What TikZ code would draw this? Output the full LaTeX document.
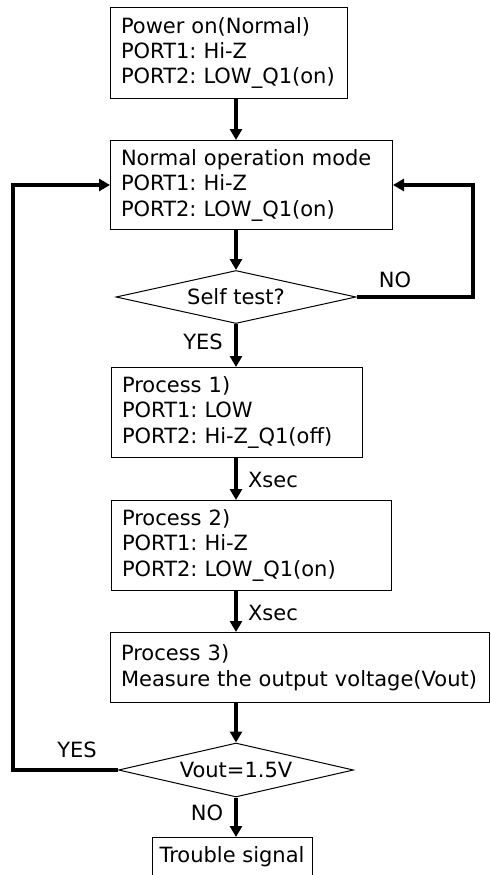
\documentclass[tikz,border=0pt]{standalone}
\usepackage{fontspec}
\setmainfont{DejaVu Sans}
\usetikzlibrary{shapes.geometric,arrows.meta}
\begin{document}
\begin{tikzpicture}[x=1pt,y=-1pt,
  txt/.style={font=\fontsize{21}{25.5}\selectfont},
  stepbox/.style={draw,line width=1pt,anchor=north west,align=left,inner xsep=10.5pt,inner ysep=0pt,txt},
  decision/.style={draw,line width=1pt,diamond,shape aspect=4.5,inner sep=0pt,txt},
  arr/.style={line width=3.5pt,-{Triangle[width=12pt,length=11pt]}},
  lbl/.style={txt,inner sep=0pt}]
\useasboundingbox (0,0) rectangle (490,875);
\node[stepbox,text width=216pt,minimum height=91pt] (b1) at (110,7)
  {Power~on(Normal)\\PORT1:~Hi-Z\\PORT2:~LOW\_Q1(on)};
\node[stepbox,text width=261pt,minimum height=89pt] (b2) at (110,140)
  {Normal~operation~mode\\PORT1:~Hi-Z\\PORT2:~LOW\_Q1(on)};
\node[decision,minimum width=240pt,minimum height=53pt] (d1) at (236,297) {Self test?};
\node[stepbox,text width=230pt,minimum height=90pt] (b3) at (111,367)
  {Process~1)\\PORT1:~LOW\\PORT2:~Hi-Z\_Q1(off)};
\node[stepbox,text width=259pt,minimum height=90pt] (b4) at (111,500)
  {Process~2)\\PORT1:~Hi-Z\\PORT2:~LOW\_Q1(on)};
\node[stepbox,text width=358pt,minimum height=70pt] (b5) at (110,632)
  {Process~3)\\Measure~the~output~voltage(Vout)};
\node[decision,minimum width=235pt,minimum height=54pt] (d2) at (236,770) {Vout=1.5V};
\node[draw,line width=1pt,anchor=north,minimum width=160pt,minimum height=41pt,inner sep=0pt,txt] (b6) at (232,837) {};
\node[lbl] (b6t) at (232,857) {Trouble signal};
\coordinate (rx) at (473,0);
\coordinate (lx) at (13,0);
\draw[arr] (b1.south -| d1) -- (b2.north -| d1);
\draw[arr] (b2.south -| d1) -- (d1.north);
\draw[arr] (d1.south) -- (b3.north -| d1);
\draw[arr] (b3.south -| d1) -- (b4.north -| d1);
\draw[arr] (b4.south -| d1) -- (b5.north -| d1);
\draw[arr] (b5.south -| d1) -- (d2.north);
\draw[arr] (d2.south) -- (b6.north -| d1);
\draw[arr] (d1.east) -- (d1.east -| rx) |- (b2.east);
\draw[arr] (d2.west) -- (d2.west -| lx) |- (b2.west);
\node[lbl] (no1) at (395,280) {NO};
\node[lbl] (yes1) at (203,342) {YES};
\node[lbl] (xs1) at (273,480) {Xsec};
\node[lbl] (xs2) at (273,613) {Xsec};
\node[lbl] (yes2) at (77,750) {YES};
\node[lbl] (no2) at (207,813) {NO};
\end{tikzpicture}
\end{document}
